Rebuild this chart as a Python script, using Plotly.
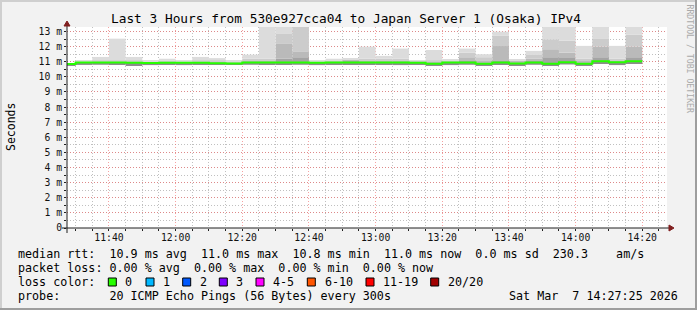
import plotly.graph_objects as go
from datetime import datetime, timedelta

# ---------------- data ----------------
day = "2026-03-07"
step_times = ["11:25", "11:30", "11:35", "11:40", "11:45", "11:50", "11:55",
              "12:00", "12:05", "12:10", "12:15", "12:20", "12:25", "12:30",
              "12:35", "12:40", "12:45", "12:50", "12:55", "13:00", "13:05",
              "13:10", "13:15", "13:20", "13:25", "13:30", "13:35", "13:40",
              "13:45", "13:50", "13:55", "14:00", "14:05", "14:10", "14:15"]
# median rtt per 5-minute step (ms)
median = [10.85, 10.95, 10.95, 10.95, 10.93, 10.92, 10.93, 10.93, 10.93, 10.90,
          10.88, 10.95, 10.95, 10.95, 10.95, 10.93, 10.95, 10.95, 10.95, 10.95,
          10.95, 10.93, 10.87, 10.95, 10.95, 10.87, 10.95, 10.88, 10.95, 10.87,
          10.97, 10.87, 11.03, 10.97, 11.03]
# smoke: lowest ping (ms)
smoke_min = [10.78, 10.79, 10.80, 10.85, 10.72, 10.78, 10.80, 10.78, 10.82, 10.80,
             10.80, 10.80, 10.85, 10.82, 10.80, 10.78, 10.82, 10.82, 10.82, 10.82,
             10.78, 10.82, 10.75, 10.78, 10.80, 10.78, 10.82, 10.78, 10.80, 10.78,
             10.82, 10.78, 10.85, 10.78, 10.85]
# smoke: upper band levels, inner (darkest) to outer (max ping)
smoke_u4 = [10.88, 10.98, 10.98, 10.98, 10.98, 10.96, 10.97, 10.96, 10.97, 10.95,
            10.93, 10.98, 11.00, 11.20, 11.30, 10.96, 10.98, 11.05, 10.98, 10.98,
            10.98, 10.98, 10.93, 10.98, 11.05, 10.98, 11.10, 10.98, 11.05, 11.30,
            11.25, 10.98, 11.30, 11.00, 11.30]
smoke_u3 = [10.90, 11.00, 11.02, 11.02, 11.02, 10.99, 11.00, 10.99, 11.00, 11.00,
            10.97, 11.05, 11.10, 12.22, 11.65, 11.00, 11.02, 11.15, 11.05, 11.05,
            11.05, 11.03, 11.00, 11.02, 11.30, 11.10, 12.04, 11.05, 11.20, 11.83,
            11.60, 11.05, 12.00, 11.10, 12.00]
smoke_u2 = [10.90, 11.03, 11.10, 11.10, 11.10, 11.03, 11.05, 11.03, 11.10, 11.10,
            11.00, 11.20, 11.20, 12.88, 13.40, 11.03, 11.10, 11.18, 11.20, 11.20,
            11.20, 11.06, 11.10, 11.08, 11.60, 11.30, 12.74, 11.10, 11.45, 12.49,
            12.40, 11.20, 12.55, 11.20, 12.80]
smoke_max = [10.90, 11.07, 11.32, 12.53, 11.32, 11.10, 11.20, 11.10, 11.32, 11.24,
             11.08, 11.47, 13.50, 13.50, 13.50, 11.06, 11.20, 11.20, 12.00, 11.39,
             11.87, 11.08, 11.78, 11.15, 11.87, 11.50, 12.99, 11.12, 11.72, 13.50,
             13.50, 12.05, 13.50, 12.05, 13.50]
# packet loss per step (of 20)
loss = [0, 0, 0, 0, 0, 0, 0, 0, 0, 0, 0, 0, 0, 0, 0, 0, 0, 0, 0, 0,
        0, 0, 0, 0, 0, 0, 0, 0, 0, 0, 0, 0, 0, 0, 0]

loss_labels = ["0", "1", "2", "3", "4-5", "6-10", "11-19", "20/20"]
loss_colors = ["#26ff00", "#00b8ff", "#0059ff", "#7e00ff", "#ff00ff", "#ff5500", "#ff0000", "#a10000"]
loss_bins = [0, 1, 2, 3, 5, 10, 19, 20]   # upper bound of each class

y_tick_vals = [0, 1, 2, 3, 4, 5, 6, 7, 8, 9, 10, 11, 12, 13]
y_tick_text = ["0", "1 m", "2 m", "3 m", "4 m", "5 m", "6 m", "7 m", "8 m", "9 m",
               "10 m", "11 m", "12 m", "13 m"]

title_text = "Last 3 Hours from 530e927cca04 to Japan Server 1 (Osaka) IPv4"
legend_rows = [
    "median rtt:  10.9 ms avg  11.0 ms max  10.8 ms min  11.0 ms now  0.0 ms sd  230.3    am/s",
    "packet loss: 0.00 % avg  0.00 % max  0.00 % min  0.00 % now",
]
probe_text = "probe:       20 ICMP Echo Pings (56 Bytes) every 300s"
stamp_text = "Sat Mar  7 14:27:25 2026"

# ---------------- geometry ----------------
W, H = 697, 310
L, R, T, B = 67, 30, 27, 82
PW = W - L - R
PH = H - T - B


def px(x):
    return (x - L) / PW


def py(y):
    return (H - B - y) / PH


def nb(s):
    return s.replace(" ", "\u00a0")


MONO = "DejaVu Sans Mono"
GRID = "rgba(150,150,150,0.6)"
MGRID = "rgba(240,100,100,0.6)"
DASH = "1px,2px"

starts = [datetime.fromisoformat(f"{day} {t}") for t in step_times]
step = timedelta(minutes=5)
centers = [s + step / 2 for s in starts]

fig = go.Figure()

# smoke bands (stacked via base)
bands = [
    (smoke_min, median, "#8c8c8c"),
    (median, smoke_u4, "#a4a4a4"),
    (smoke_u4, smoke_u3, "#bababa"),
    (smoke_u3, smoke_u2, "#cccccc"),
    (smoke_u2, smoke_max, "#dcdcdc"),
]
for lo, hi, col in bands:
    fig.add_trace(go.Bar(
        x=centers, y=[h - l for l, h in zip(lo, hi)], base=lo,
        width=step.total_seconds() * 1000,
        marker=dict(color=col, line=dict(width=0)),
        hoverinfo="skip", showlegend=False))


def loss_color(n):
    for b, c in zip(loss_bins, loss_colors):
        if n <= b:
            return c
    return loss_colors[-1]


# median line, coloured by loss, as staircase
xs = starts + [starts[-1] + step]
ys = median + [median[-1]]
cols = [loss_color(n) for n in loss]
i = 0
while i < len(cols):
    j = i
    while j + 1 < len(cols) and cols[j + 1] == cols[i]:
        j += 1
    fig.add_trace(go.Scatter(
        x=xs[i:j + 2], y=ys[i:j + 1] + [ys[j]], mode="lines",
        line=dict(color=cols[i], width=2, shape="hv"),
        hoverinfo="skip", showlegend=False))
    i = j + 1

fig.update_layout(
    width=W, height=H,
    margin=dict(l=L, r=R, t=T, b=B, pad=0),
    paper_bgcolor="#f2f2f2", plot_bgcolor="#ffffff",
    barmode="overlay", showlegend=False,
    font=dict(family=MONO, size=10, color="#000000"),
    xaxis=dict(
        type="date",
        range=[f"{day} 11:27:25", f"{day} 14:27:25"],
        tick0=f"{day} 11:40", dtick=20 * 60 * 1000, tickformat="%H:%M",
        showgrid=True, gridcolor=MGRID, griddash=DASH, gridwidth=1,
        ticks="outside", ticklen=2, tickcolor="#1f1f1f", ticklabelstandoff=-2,
        tickfont=dict(family=MONO, size=9.75, color="#111111"),
        showline=False, zeroline=False,
        minor=dict(dtick=5 * 60 * 1000, tick0=f"{day} 11:40", showgrid=True,
                   gridcolor=GRID, griddash=DASH,
                   ticks="outside", ticklen=2, tickcolor="#1f1f1f"),
        fixedrange=True,
    ),
    yaxis=dict(
        range=[0, 13.3],
        tickvals=y_tick_vals, ticktext=y_tick_text,
        showgrid=True, gridcolor=MGRID, griddash=DASH, gridwidth=1,
        ticks="outside", ticklen=2, tickcolor="#1f1f1f",
        tickfont=dict(family=MONO, size=9.75, color="#111111"),
        showline=False, zeroline=False,
        minor=dict(dtick=0.5, showgrid=True, gridcolor=GRID, griddash=DASH,
                   ticks="outside", ticklen=2, tickcolor="#1f1f1f"),
        fixedrange=True,
    ),
)

shapes = []
# 3D frame
shapes.append(dict(type="rect", xref="paper", yref="paper", x0=px(0), x1=px(W), y0=py(0), y1=py(2),
                   fillcolor="#cfcfcf", line=dict(width=0), layer="above"))
shapes.append(dict(type="rect", xref="paper", yref="paper", x0=px(0), x1=px(2), y0=py(0), y1=py(H),
                   fillcolor="#cfcfcf", line=dict(width=0), layer="above"))
shapes.append(dict(type="rect", xref="paper", yref="paper", x0=px(0), x1=px(W), y0=py(H - 2), y1=py(H),
                   fillcolor="#9e9e9e", line=dict(width=0), layer="above"))
shapes.append(dict(type="rect", xref="paper", yref="paper", x0=px(W - 2), x1=px(W), y0=py(0), y1=py(H),
                   fillcolor="#9e9e9e", line=dict(width=0), layer="above"))
# axis lines
shapes.append(dict(type="line", xref="paper", yref="paper", x0=px(L), x1=px(L), y0=py(233), y1=py(24),
                   line=dict(color="#1f1f1f", width=1), layer="above"))
shapes.append(dict(type="line", xref="paper", yref="paper", x0=px(62), x1=px(669), y0=py(H - B), y1=py(H - B),
                   line=dict(color="#1f1f1f", width=1), layer="above"))
# arrows
ay = f"M {px(L)} {py(21)} L {px(L - 3)} {py(26)} L {px(L + 3)} {py(26)} Z"
ax = f"M {px(674)} {py(H - B)} L {px(669)} {py(H - B - 3)} L {px(669)} {py(H - B + 3)} Z"
for p in (ay, ax):
    shapes.append(dict(type="path", xref="paper", yref="paper", path=p,
                       fillcolor="#801f1f", line=dict(color="#801f1f", width=1), layer="above"))

# loss colour swatches
box_x = [108.3, 146.0, 182.7, 219.3, 256.0, 307.3, 366.0, 430.7]
lab_x = [123.0, 161.0, 197.7, 234.0, 271.0, 322.7, 380.7, 446.0]
row_y = [254.3, 268.3, 282.0, 296.3]
for bx, c in zip(box_x, loss_colors):
    shapes.append(dict(type="rect", xref="paper", yref="paper",
                       x0=px(bx), x1=px(bx + 8), y0=py(row_y[2] + 4), y1=py(row_y[2] - 4),
                       fillcolor=c, line=dict(color="#000000", width=1), layer="above"))

ann = []
ann.append(dict(text=nb(title_text), x=px(346), y=py(18), xref="paper", yref="paper",
                showarrow=False, xanchor="center", yanchor="middle",
                font=dict(family=MONO, size=12.8, color="#000000")))
ann.append(dict(text="Seconds", x=px(11), y=py(127), xref="paper", yref="paper",
                showarrow=False, xanchor="center", yanchor="middle", textangle=-90,
                font=dict(family=MONO, size=11.5, color="#000000")))
ann.append(dict(text=nb("RRDTOOL / TOBI OETIKER"), x=px(689.5), y=py(59), xref="paper", yref="paper",
                showarrow=False, xanchor="center", yanchor="middle", textangle=90,
                font=dict(family=MONO, size=8.2, color="#aaaaaa")))
for k, row in enumerate(legend_rows):
    ann.append(dict(text=nb(row), x=px(16), y=py(row_y[k]), xref="paper", yref="paper",
                    showarrow=False, xanchor="left", yanchor="middle",
                    font=dict(family=MONO, size=11.7, color="#000000")))
ann.append(dict(text=nb("loss color:"), x=px(16), y=py(row_y[2]), xref="paper", yref="paper",
                showarrow=False, xanchor="left", yanchor="middle",
                font=dict(family=MONO, size=11.7, color="#000000")))
for lx, lab in zip(lab_x, loss_labels):
    ann.append(dict(text=lab, x=px(lx), y=py(row_y[2]), xref="paper", yref="paper",
                    showarrow=False, xanchor="left", yanchor="middle",
                    font=dict(family=MONO, size=11.7, color="#000000")))
ann.append(dict(text=nb(probe_text), x=px(16), y=py(row_y[3]), xref="paper", yref="paper",
                showarrow=False, xanchor="left", yanchor="middle",
                font=dict(family=MONO, size=11.7, color="#000000")))
ann.append(dict(text=nb(stamp_text), x=px(680), y=py(row_y[3]), xref="paper", yref="paper",
                showarrow=False, xanchor="right", yanchor="middle",
                font=dict(family=MONO, size=11.7, color="#000000")))

fig.update_layout(shapes=shapes, annotations=ann)
fig.write_html("out.html")
